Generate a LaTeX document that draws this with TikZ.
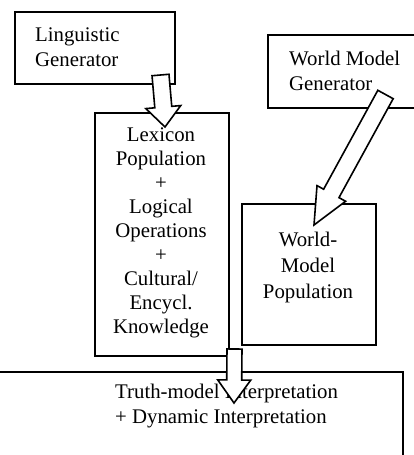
\documentclass[tikz,border=0pt]{standalone}
\usepackage{fontspec}
\setmainfont{Liberation Serif}
\usetikzlibrary{calc}
% block arrow: #1 start, #2 tip, #3 shaft half width, #4 head half width, #5 head length
\newcommand\blockarr[5]{%
  \coordinate (#2-hb) at ($(#2)!#5!(#1)$);
  \path[arrowline] ($(#1)!#3!90:(#2)$) -- ($(#2-hb)!#3!90:(#2)$) -- ($(#2-hb)!#4!90:(#2)$)
    -- (#2) -- ($(#2-hb)!#4!-90:(#2)$) -- ($(#2-hb)!#3!-90:(#2)$) -- ($(#1)!#3!-90:(#2)$) -- cycle;
}
\begin{document}
\begin{tikzpicture}[x=1pt,y=-1pt,
  box/.style={draw,line width=1.8pt,rectangle,inner sep=0pt,anchor=north west},
  txt/.style={inner sep=0pt,font=\fontsize{20.8}{25}\selectfont},
  arrowline/.style={draw,fill=white,line width=1.6pt,line join=miter}]
\useasboundingbox (0,0) rectangle (414,455);
\node[box,minimum width=160pt,minimum height=72pt] (lg) at (14,11) {};
\node[txt,anchor=west,align=left] (lgt) at (35,47.5) {Linguistic\\Generator};
\node[box,minimum width=153pt,minimum height=73pt] (wg) at (267,34) {};
\node[txt,anchor=west,align=left] (wgt) at (289,70.5) {World Model\\Generator};
\node[box,minimum width=134pt,minimum height=243pt] (lex) at (94,112) {};
\node[txt,align=center,font=\fontsize{20.8}{24}\selectfont] (lext) at (161,233) {Lexicon\\Population\\+\\Logical\\Operations\\+\\Cultural/\\Encycl.\\Knowledge};
\node[box,minimum width=134pt,minimum height=141pt] (wp) at (241,203) {};
\node[txt,align=center,font=\fontsize{20.8}{26}\selectfont] (wpt) at (308,267) {World-\\Model\\Population};
\node[box,minimum width=407pt,minimum height=100pt] (ti) at (-5,371) {};
\node[txt,anchor=west,align=left] (tit) at (115,406) {Truth-model Interpretation\\+ Dynamic Interpretation};
\coordinate (a1s) at (160.5,75);
\coordinate (a1t) at (165,127);
\blockarr{a1s}{a1t}{8.5pt}{17.5pt}{20pt}
\coordinate (a2s) at (385.5,94.5);
\coordinate (a2t) at (314,225);
\blockarr{a2s}{a2t}{8.75pt}{16.3pt}{36pt}
\coordinate (a3s) at (234.5,349);
\coordinate (a3t) at (234,403);
\blockarr{a3s}{a3t}{7.5pt}{16.5pt}{23pt}
\end{tikzpicture}
\end{document}
